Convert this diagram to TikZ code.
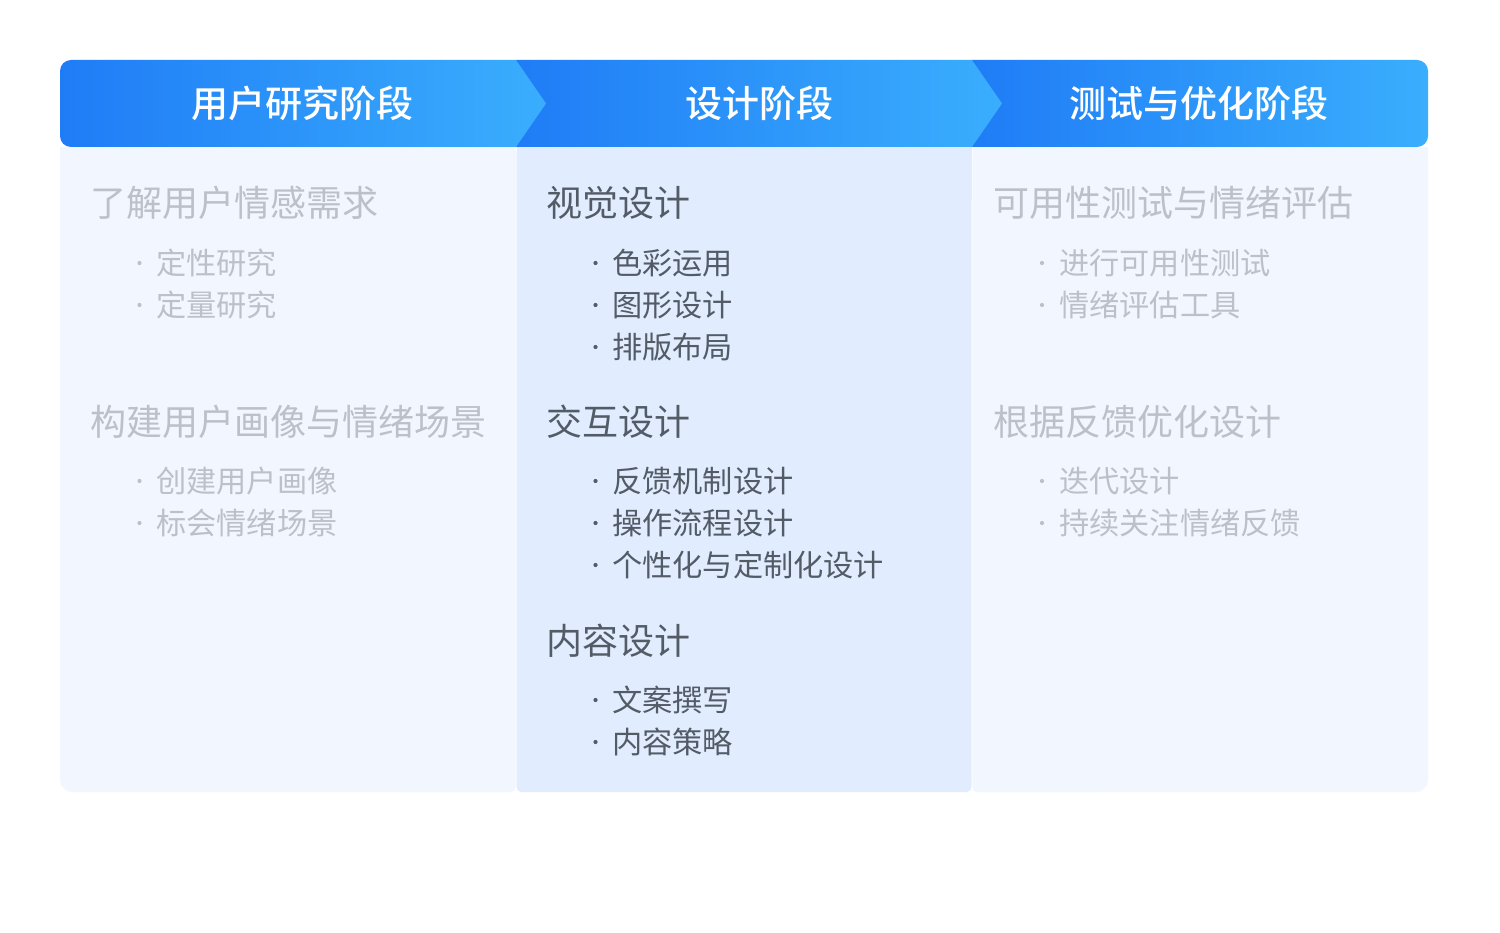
\documentclass[tikz,border=0pt]{standalone}
\usepackage{fontspec}
\setmainfont{Noto Sans CJK SC}
\newfontfamily\hdfont{Noto Sans CJK SC Medium}
\definecolor{hdark}{HTML}{1F7CF6}
\definecolor{hlight}{HTML}{3AAEFD}
\definecolor{pale}{HTML}{F2F7FF}
\definecolor{palemid}{HTML}{E1EDFE}
\definecolor{txtgray}{HTML}{BCC0C8}
\definecolor{txtdark}{HTML}{535B66}
\begin{document}
\begin{tikzpicture}[x=1pt,y=-1pt,
  hdtext/.style={text=white,font=\hdfont\fontsize{37}{41}\selectfont,inner sep=0},
  headA/.style={anchor=west,inner sep=0,font=\fontsize{36}{40}\selectfont},
  itemA/.style={anchor=west,inner sep=0,font=\fontsize{30.2}{34}\selectfont},
  bul/.style={circle,inner sep=0,minimum size=4.2pt},
  grayc/.style={text=txtgray},
  darkc/.style={text=txtdark},
  grayb/.style={fill=txtgray},
  darkb/.style={fill=txtdark}]
\useasboundingbox (0,0) rectangle (1500,933);
\fill[white] (0,0) rectangle (1500,933);
% panels
\fill[pale,rounded corners=12] (60,147) rectangle (515.5,792);
\fill[pale,rounded corners=4] (400,147) rectangle (515.5,792);
\fill[pale] (60,147) rectangle (515.5,200);
\fill[palemid,rounded corners=5] (516.5,147) rectangle (971.5,792);
\fill[palemid] (516.5,147) rectangle (971.5,200);
\fill[pale,rounded corners=12] (972.5,147) rectangle (1428,792);
\fill[pale,rounded corners=4] (972.5,147) rectangle (1100,792);
\fill[pale] (972.5,147) rectangle (1428,200);
% header segments
\shade[left color=hdark,right color=hlight]
  [rounded corners=11] (990,60) rectangle (1428,147)
  [sharp corners] (972,60) rectangle (1010,147);
\shade[left color=hdark,right color=hlight]
  (516,60) rectangle (972,147)
  (960,147) -- (972,147) -- (1002,103.5) -- (972,60) -- (960,60) -- cycle;
\shade[left color=hdark,right color=hlight]
  [rounded corners=11] (60,60) rectangle (505,147)
  [sharp corners] (480,147) -- (516,147) -- (546,103.5) -- (516,60) -- (480,60) -- cycle;
\node[hdtext] (h1) at (302,103.5) {用户研究阶段};
\node[hdtext] (h2) at (759,103.5) {设计阶段};
\node[hdtext] (h3) at (1199,103.5) {测试与优化阶段};
% column 1
\node[headA,grayc] (a1) at (90,203) {了解用户情感需求};
\node[bul,grayb] (a1b1) at (139.5,263) {};
\node[itemA,grayc] (a1i1) at (156,263) {定性研究};
\node[bul,grayb] (a1b2) at (139.5,305) {};
\node[itemA,grayc] (a1i2) at (156,305) {定量研究};
\node[headA,grayc] (a2) at (90,422) {构建用户画像与情绪场景};
\node[bul,grayb] (a2b1) at (139.5,481) {};
\node[itemA,grayc] (a2i1) at (156,481) {创建用户画像};
\node[bul,grayb] (a2b2) at (139.5,523) {};
\node[itemA,grayc] (a2i2) at (156,523) {标会情绪场景};
% column 2
\node[headA,darkc] (b1) at (546,203) {视觉设计};
\node[bul,darkb] (b1b1) at (595.5,263) {};
\node[itemA,darkc] (b1i1) at (612,263) {色彩运用};
\node[bul,darkb] (b1b2) at (595.5,305) {};
\node[itemA,darkc] (b1i2) at (612,305) {图形设计};
\node[bul,darkb] (b1b3) at (595.5,347) {};
\node[itemA,darkc] (b1i3) at (612,347) {排版布局};
\node[headA,darkc] (b2) at (546,422) {交互设计};
\node[bul,darkb] (b2b1) at (595.5,481) {};
\node[itemA,darkc] (b2i1) at (612,481) {反馈机制设计};
\node[bul,darkb] (b2b2) at (595.5,523) {};
\node[itemA,darkc] (b2i2) at (612,523) {操作流程设计};
\node[bul,darkb] (b2b3) at (595.5,565) {};
\node[itemA,darkc] (b2i3) at (612,565) {个性化与定制化设计};
\node[headA,darkc] (b3) at (546,641) {内容设计};
\node[bul,darkb] (b3b1) at (595.5,700) {};
\node[itemA,darkc] (b3i1) at (612,700) {文案撰写};
\node[bul,darkb] (b3b2) at (595.5,742) {};
\node[itemA,darkc] (b3i2) at (612,742) {内容策略};
% column 3
\node[headA,grayc] (c1) at (993,203) {可用性测试与情绪评估};
\node[bul,grayb] (c1b1) at (1042,263) {};
\node[itemA,grayc] (c1i1) at (1059,263) {进行可用性测试};
\node[bul,grayb] (c1b2) at (1042,305) {};
\node[itemA,grayc] (c1i2) at (1059,305) {情绪评估工具};
\node[headA,grayc] (c2) at (993,422) {根据反馈优化设计};
\node[bul,grayb] (c2b1) at (1042,481) {};
\node[itemA,grayc] (c2i1) at (1059,481) {迭代设计};
\node[bul,grayb] (c2b2) at (1042,523) {};
\node[itemA,grayc] (c2i2) at (1059,523) {持续关注情绪反馈};
\end{tikzpicture}
\end{document}
